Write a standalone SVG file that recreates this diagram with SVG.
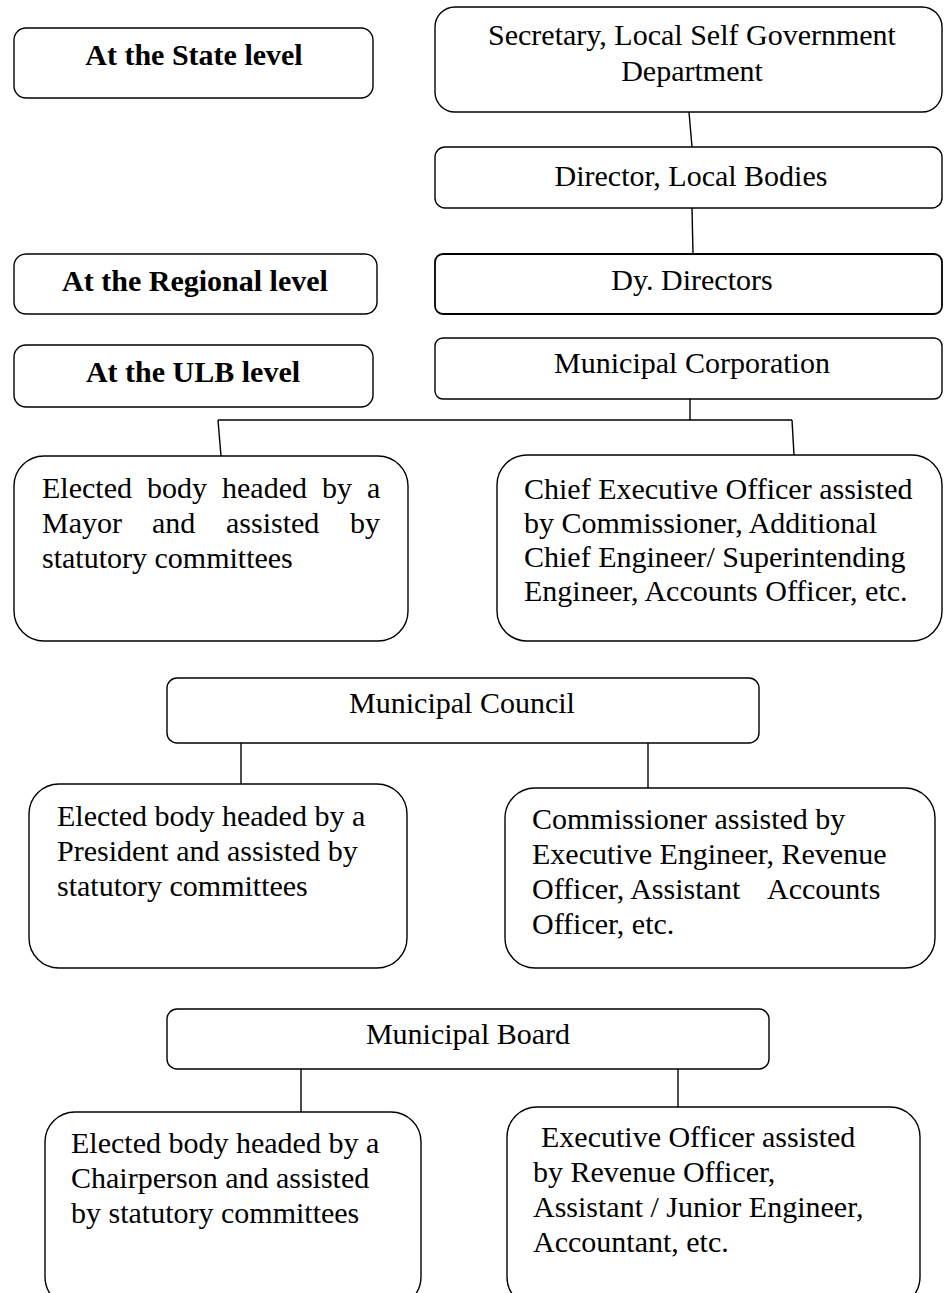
<svg xmlns="http://www.w3.org/2000/svg" width="944" height="1293" viewBox="0 0 944 1293">
<style>
rect{fill:#fff;stroke:#000;stroke-width:1.4}
.c line,.c path{stroke:#000;stroke-width:1.4;fill:none}
text{font-family:"Liberation Serif","Times New Roman",serif;font-size:30px;fill:#000}
.b{font-weight:bold}
.m{text-anchor:middle}
</style>
<rect x="0" y="0" width="944" height="1293" style="stroke:none"/>
<g class="c" id="connectors">
<line x1="689" y1="112" x2="692" y2="147"/>
<line x1="692" y1="208" x2="693" y2="254"/>
<line x1="690" y1="399" x2="690" y2="420"/>
<line x1="218" y1="420" x2="792" y2="420"/>
<line x1="218" y1="420" x2="221" y2="456"/>
<line x1="792" y1="420" x2="794" y2="455"/>
<line x1="241" y1="743" x2="241" y2="784"/>
<line x1="648" y1="743" x2="648" y2="788"/>
<line x1="301" y1="1069" x2="301" y2="1112"/>
<line x1="678" y1="1069" x2="678" y2="1111"/>
</g>
<g id="state-level">
<rect x="14" y="28" width="359" height="70" rx="12"/>
<text class="b m" x="194" y="65">At the State level</text>
</g>
<g id="secretary">
<rect x="435" y="7" width="507" height="105" rx="20"/>
<text class="m" x="692" y="45">Secretary, Local Self Government</text>
<text class="m" x="692" y="81">Department</text>
</g>
<g id="director">
<rect x="435" y="147" width="507" height="61" rx="10"/>
<text class="m" x="691" y="186">Director, Local Bodies</text>
</g>
<g id="regional-level">
<rect x="14" y="254" width="363" height="60" rx="12"/>
<text class="b m" x="195" y="291">At the Regional level</text>
</g>
<g id="dy-directors">
<rect x="435" y="254" width="507" height="60" rx="8" style="stroke-width:1.8"/>
<text class="m" x="692" y="290">Dy. Directors</text>
</g>
<g id="ulb-level">
<rect x="14" y="345" width="359" height="62" rx="12"/>
<text class="b m" x="193" y="382">At the ULB level</text>
</g>
<g id="municipal-corporation">
<rect x="435" y="338" width="507" height="61" rx="8"/>
<text class="m" x="692" y="373">Municipal Corporation</text>
</g>
<g id="mayor-body">
<rect x="14" y="456" width="394" height="185" rx="30"/>
<text y="498"><tspan x="42">Elected</tspan><tspan x="147">body</tspan><tspan x="222">headed</tspan><tspan x="322">by</tspan><tspan x="367">a</tspan></text>
<text y="533"><tspan x="42">Mayor</tspan><tspan x="152">and</tspan><tspan x="226">assisted</tspan><tspan x="350">by</tspan></text>
<text x="42" y="568">statutory committees</text>
</g>
<g id="chief-executive">
<rect x="497" y="455" width="445" height="186" rx="30"/>
<text x="524" y="499">Chief Executive Officer assisted</text>
<text x="524" y="533">by Commissioner, Additional</text>
<text x="524" y="567">Chief Engineer/ Superintending</text>
<text x="524" y="601">Engineer, Accounts Officer, etc.</text>
</g>
<g id="municipal-council">
<rect x="167" y="678" width="592" height="65" rx="10"/>
<text class="m" x="462" y="713">Municipal Council</text>
</g>
<g id="president-body">
<rect x="29" y="784" width="378" height="184" rx="30"/>
<text x="57" y="826">Elected body headed by a</text>
<text x="57" y="861">President and assisted by</text>
<text x="57" y="896">statutory committees</text>
</g>
<g id="commissioner">
<rect x="505" y="788" width="430" height="180" rx="30"/>
<text x="532" y="829">Commissioner assisted by</text>
<text x="532" y="864">Executive Engineer, Revenue</text>
<text y="899"><tspan x="532">Officer, Assistant</tspan><tspan x="767">Accounts</tspan></text>
<text x="532" y="934">Officer, etc.</text>
</g>
<g id="municipal-board">
<rect x="167" y="1009" width="602" height="60" rx="10"/>
<text class="m" x="468" y="1044">Municipal Board</text>
</g>
<g id="chairperson-body">
<rect x="45" y="1112" width="376" height="195" rx="30"/>
<text x="71" y="1153">Elected body headed by a</text>
<text x="71" y="1188">Chairperson and assisted</text>
<text x="71" y="1223">by statutory committees</text>
</g>
<g id="executive-officer">
<rect x="507" y="1107" width="413" height="200" rx="30"/>
<text x="541" y="1147">Executive Officer assisted</text>
<text x="533" y="1182">by Revenue Officer,</text>
<text x="533" y="1217">Assistant / Junior Engineer,</text>
<text x="533" y="1252">Accountant, etc.</text>
</g>
</svg>
